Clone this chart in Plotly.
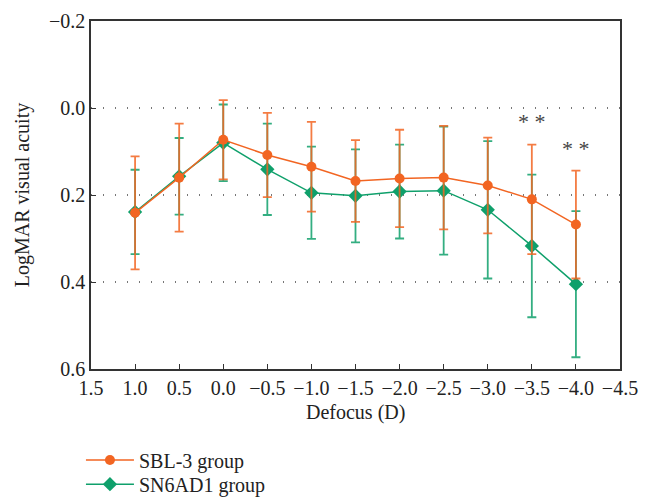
import plotly.graph_objects as go

defocus = [1.0, 0.5, 0.0, -0.5, -1.0, -1.5, -2.0, -2.5, -3.0, -3.5, -4.0]
sbl_mean = [0.241, 0.160, 0.073, 0.108, 0.135, 0.168, 0.162, 0.160, 0.178, 0.210, 0.268]
sbl_sd = [0.130, 0.124, 0.091, 0.097, 0.103, 0.094, 0.112, 0.119, 0.110, 0.126, 0.124]
sn6_mean = [0.239, 0.157, 0.080, 0.141, 0.195, 0.202, 0.192, 0.190, 0.234, 0.317, 0.405]
sn6_sd = [0.097, 0.088, 0.088, 0.105, 0.106, 0.107, 0.108, 0.147, 0.158, 0.164, 0.168]
sig_x = [-3.5, -4.0]
sig_y = [0.031, 0.094]
sig_text = ["* *", "* *"]
x_ticks = [1.5, 1.0, 0.5, 0.0, -0.5, -1.0, -1.5, -2.0, -2.5, -3.0, -3.5, -4.0, -4.5]
y_ticks = [-0.2, 0.0, 0.2, 0.4, 0.6]

ORANGE = "#f26522"
GREEN = "#0fa06b"
FONT = "Liberation Serif"
TXT = "#222222"
FS = 20

fig = go.Figure()
fig.add_trace(go.Scatter(
    x=defocus, y=sn6_mean, name="SN6AD1 group", mode="lines+markers",
    line=dict(color=GREEN, width=1.5),
    marker=dict(symbol="diamond", size=11, color=GREEN),
    error_y=dict(type="data", array=sn6_sd, color="rgba(15,160,107,0.85)", thickness=1.8, width=4.5),
    legend="legend2", showlegend=True,
))
fig.add_trace(go.Scatter(
    x=defocus, y=sbl_mean, name="SBL-3 group", mode="lines+markers",
    line=dict(color=ORANGE, width=1.5),
    marker=dict(symbol="circle", size=10, color=ORANGE),
    error_y=dict(type="data", array=sbl_sd, color="rgba(242,101,34,0.85)", thickness=1.8, width=4.5),
    legend="legend", showlegend=True,
))

for xs, ys, t in zip(sig_x, sig_y, sig_text):
    fig.add_annotation(x=xs, y=ys, text=t, showarrow=False,
                       font=dict(family=FONT, size=22, color="#444444"))

fig.add_annotation(xref="paper", yref="paper", x=0.5, y=-0.124, text="Defocus (D)",
                   showarrow=False, xanchor="center", yanchor="middle",
                   font=dict(family=FONT, size=FS, color=TXT))
fig.add_annotation(xref="paper", yref="paper", x=-0.13, y=0.5, text="LogMAR visual acuity",
                   showarrow=False, xanchor="center", yanchor="middle", textangle=-90,
                   font=dict(family=FONT, size=FS, color=TXT))

fig.update_xaxes(
    range=[1.5, -4.5], tickvals=x_ticks, tickformat=".1f", automargin=False,
    ticks="inside", ticklen=5, tickcolor="#333", showline=True, linecolor="#333",
    linewidth=1.5, mirror=True, showgrid=False, zeroline=False,
    tickfont=dict(family=FONT, size=FS, color=TXT),
)
fig.update_yaxes(
    range=[0.6, -0.2], tickvals=y_ticks, tickformat=".1f", automargin=False,
    ticks="inside", ticklen=5, tickcolor="#333", showline=True, linecolor="#333",
    linewidth=1.5, mirror=True,
    showgrid=True, gridcolor="#777777", griddash="1px,11px", gridwidth=1.5, zeroline=False,
    tickfont=dict(family=FONT, size=FS, color=TXT),
)

leg_common = dict(xanchor="left", yanchor="middle", yref="container", itemwidth=48,
                  font=dict(family=FONT, size=FS, color=TXT), bgcolor="rgba(0,0,0,0)")
fig.update_layout(
    width=648, height=497,
    margin=dict(l=83, r=36, t=13, b=136),
    plot_bgcolor="white", paper_bgcolor="white",
    showlegend=True,
    legend=dict(x=-0.019, y=0.0905, **leg_common),
    legend2=dict(x=-0.019, y=0.042, **leg_common),
    font=dict(family=FONT),
)

fig.write_html("out.html")
